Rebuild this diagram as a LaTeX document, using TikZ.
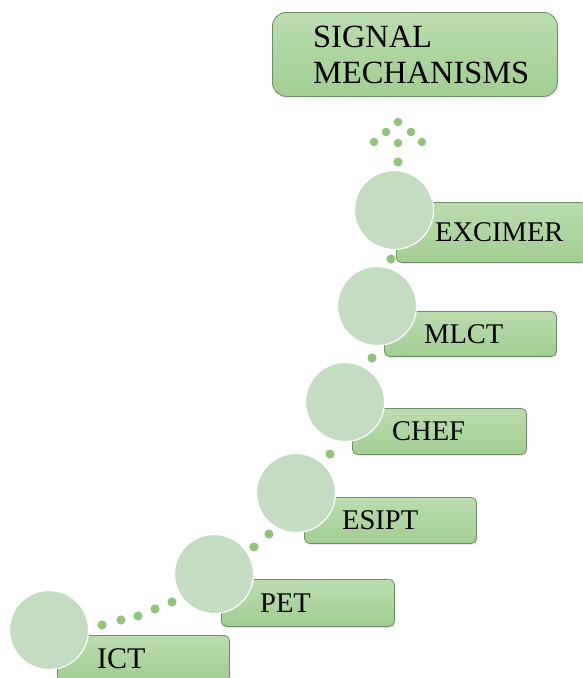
\documentclass[tikz,border=0pt]{standalone}
\usepackage{fontspec}
\setmainfont{Liberation Serif}
\usetikzlibrary{shadows,calc}

\definecolor{boxtop}{HTML}{BCDCB0}
\definecolor{boxbot}{HTML}{A1CE91}
\definecolor{boxline}{HTML}{6F8D69}
\definecolor{ballfill}{HTML}{C4DCC2}
\definecolor{dotgreen}{HTML}{93C47D}

\tikzset{
  stepbox/.style={rectangle, rounded corners=5pt, draw=boxline, line width=0.8pt,
    top color=boxtop, bottom color=boxbot, inner sep=0pt, anchor=north west,
    drop shadow={opacity=0.18, shadow xshift=1pt, shadow yshift=-1.5pt}},
  steplabel/.style={anchor=west, inner sep=0pt, text=black,
    font=\fontsize{28.5}{34}\selectfont},
  ball/.style={circle, fill=ballfill, draw=white, line width=1.2pt,
    minimum size=79pt, inner sep=0pt},
  dot/.style={fill=dotgreen},
}

\begin{document}
\begin{tikzpicture}[x=1pt, y=-1pt]
  \useasboundingbox (0,0) rectangle (582,678);

  % title box
  \node[stepbox, rounded corners=14pt, minimum width=285pt, minimum height=84pt]
    (title) at (272,12) {};
  \node[anchor=west, inner sep=0pt, align=left,
        font=\fontsize{32.4}{36}\selectfont] (titletext) at (313,55)
    {SIGNAL\\MECHANISMS};

  % step boxes
  \node[stepbox, minimum width=172pt, minimum height=46pt] (b1) at (57,635) {};
  \node[stepbox, minimum width=173pt, minimum height=47pt] (b2) at (221,579) {};
  \node[stepbox, minimum width=172pt, minimum height=46pt] (b3) at (304,497) {};
  \node[stepbox, minimum width=174pt, minimum height=46pt] (b4) at (352,408) {};
  \node[stepbox, minimum width=172pt, minimum height=45pt] (b5) at (384,311) {};
  \node[stepbox, minimum width=190pt, minimum height=60pt] (b6) at (396,202) {};

  % step labels
  \node[steplabel, font=\fontsize{30}{34}\selectfont] (t1) at ($(b1.west)+(40,0)$) {ICT};
  \node[steplabel] (t2) at ($(b2.west)+(39,0)$) {PET};
  \node[steplabel] (t3) at ($(b3.west)+(38,0)$) {ESIPT};
  \node[steplabel] (t4) at ($(b4.west)+(40,0)$) {CHEF};
  \node[steplabel] (t5) at ($(b5.west)+(40,0)$) {MLCT};
  \node[steplabel] (t6) at ($(b6.west)+(39,0)$) {EXCIMER};

  % circles
  \node[ball] (c1) at (49,630) {};
  \node[ball] (c2) at (214,574) {};
  \node[ball] (c3) at (296,493) {};
  \node[ball] (c4) at (345,402) {};
  \node[ball] (c5) at (377,306) {};
  \node[ball] (c6) at (394,210) {};

  % dotted trail between the circles
  \foreach \p in {(102,625),(121,620),(138,616),(155,609),(172,602),
                  (254,547),(269,534),
                  (330,454),
                  (372,358),
                  (391,259),
                  (398,162)}
    \fill[dot] \p circle (4.6pt);

  % dotted arrowhead pointing to the title
  \foreach \p in {(398,122),(386,132),(411,132),(374,142),(398,143),(422,142)}
    \fill[dot] \p circle (4.3pt);
\end{tikzpicture}
\end{document}
